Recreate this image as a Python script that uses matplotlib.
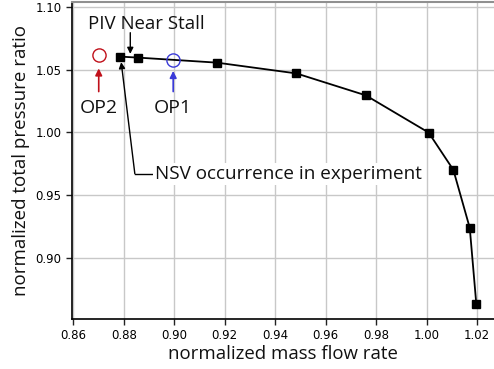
import numpy as np
import matplotlib.pyplot as plt

# ---- data ----
mass_flow = [0.8787, 0.8858, 0.9169, 0.9484, 0.9759, 1.0008, 1.0106, 1.0171, 1.0197]
pressure = [1.0604, 1.0596, 1.0556, 1.0470, 1.0295, 0.9998, 0.9700, 0.9237, 0.8627]

op1 = (0.8996, 1.0580)
op2 = (0.8701, 1.0620)

x_ticks = [0.86, 0.88, 0.90, 0.92, 0.94, 0.96, 0.98, 1.00, 1.02]
y_ticks = [0.90, 0.95, 1.00, 1.05, 1.10]

LABEL_FONT = ['Open Sans', 'DejaVu Sans']

fig = plt.figure(figsize=(4.94, 3.69), dpi=100)
ax = fig.add_axes([0.1457, 0.1355, 0.8543, 0.8591])

ax.plot(mass_flow, pressure, color='black', lw=1.3, marker='s', ms=5.2,
        mec='black', mfc='black', zorder=3)

ax.plot(*op2, marker='o', ms=9.5, mfc='none', mec='#c0101a', mew=1.0, zorder=4)
ax.plot(*op1, marker='o', ms=9.5, mfc='none', mec='#3a3ad8', mew=1.0, zorder=4)

# OP arrows
ax.annotate('', xy=(op2[0], 1.0510), xytext=(op2[0], 1.0325),
            arrowprops=dict(arrowstyle='-|>', color='#c0101a', lw=1.2,
                            mutation_scale=10, shrinkA=0, shrinkB=0))
ax.text(op2[0], 1.0195, 'OP2', ha='center', va='center', fontsize=14,
        family=LABEL_FONT, color='#111111')
ax.annotate('', xy=(op1[0], 1.0490), xytext=(op1[0], 1.0325),
            arrowprops=dict(arrowstyle='-|>', color='#3a3ad8', lw=1.2,
                            mutation_scale=10, shrinkA=0, shrinkB=0))
ax.text(op1[0], 1.0195, 'OP1', ha='center', va='center', fontsize=14,
        family=LABEL_FONT, color='#111111')

# PIV near stall
ax.text(0.8888, 1.0865, 'PIV Near Stall', ha='center', va='center', fontsize=13.4,
        family=LABEL_FONT, color='#111111')
ax.annotate('', xy=(0.8826, 1.0626), xytext=(0.8826, 1.0795),
            arrowprops=dict(arrowstyle='-|>', color='black', lw=1.0,
                            mutation_scale=9, shrinkA=0, shrinkB=0))

# NSV occurrence
ax.plot([0.8844, 0.8920], [0.9670, 0.9670], color='black', lw=1.0, zorder=3)
ax.annotate('', xy=(0.8790, 1.0560), xytext=(0.8844, 0.9670),
            arrowprops=dict(arrowstyle='-|>', color='black', lw=1.0,
                            mutation_scale=9, shrinkA=0, shrinkB=0))
ax.text(0.8925, 0.9670, 'NSV occurrence in experiment', ha='left', va='center',
        fontsize=13.6, family=LABEL_FONT, color='#111111',
        bbox=dict(facecolor='white', edgecolor='none', pad=1.5), zorder=5)

ax.set_xlim(0.8595, 1.0267)
ax.set_ylim(0.851, 1.104)
ax.set_xticks(x_ticks)
ax.set_yticks(y_ticks)
ax.set_xticklabels([f'{v:.2f}' for v in x_ticks])
ax.set_yticklabels([f'{v:.2f}' for v in y_ticks])
ax.tick_params(labelsize=8.5, direction='out', length=4, width=1, color='#222222')

ax.grid(True, color='#c8c8c8', lw=1.0)
ax.set_axisbelow(True)

ax.spines['right'].set_visible(False)
ax.spines['top'].set_color('#909090')
ax.spines['top'].set_linewidth(1.5)
ax.spines['left'].set_linewidth(1.2)
ax.spines['bottom'].set_linewidth(1.2)

ax.set_xlabel('normalized mass flow rate', fontsize=13.4, family=LABEL_FONT,
              color='#111111', labelpad=2)
ax.set_ylabel('normalized total pressure ratio', fontsize=13.5, family=LABEL_FONT,
              color='#111111', labelpad=4)

fig.savefig('out.png', dpi=100)
